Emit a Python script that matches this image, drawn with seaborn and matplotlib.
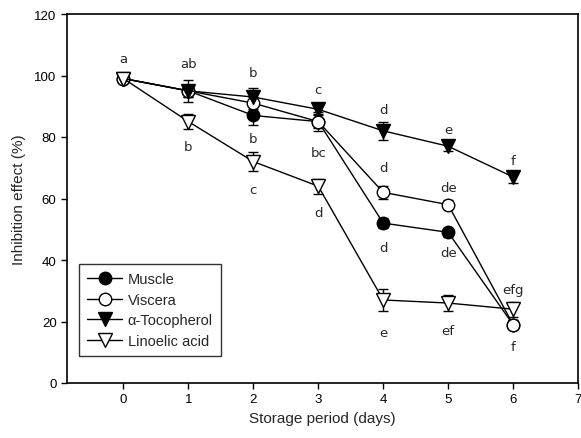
import matplotlib
matplotlib.use("Agg")
import matplotlib.pyplot as plt
import seaborn as sns
import numpy as np
import pandas as pd

days = [0, 1, 2, 3, 4, 5, 6]
muscle = [99, 95, 87, 85, 52, 49, 19]
muscle_err = [0.8, 2.0, 3.0, 2.0, 1.5, 1.5, 1.5]
viscera = [99, 95, 91, 85, 62, 58, 19]
viscera_err = [0.8, 2.0, 2.0, 3.0, 2.0, 1.5, 1.5]
tocopherol = [99, 95, 93, 89, 82, 77, 67]
tocopherol_err = [0.8, 3.5, 3.0, 1.5, 3.0, 1.5, 2.0]
linoleic = [99, 85, 72, 64, 27, 26, 24]
linoleic_err = [0.8, 2.5, 3.0, 2.5, 3.5, 2.5, 2.5]

series_names = ["Muscle", "Viscera", "\u03b1-Tocopherol", "Linoelic acid"]

# significance letters: (day, y, text)
letter_day = [0, 1, 1, 2, 2, 2, 3, 3, 3, 4, 4, 4, 4, 5, 5, 5, 5, 6, 6, 6]
letter_y = [105.5, 104, 77, 101, 79.5, 63, 95.5, 75, 55.5, 89, 70, 44, 16.5,
            82.3, 63.7, 42.5, 17.2, 72.3, 30.3, 12]
letter_text = ["a", "ab", "b", "b", "b", "c", "c", "bc", "d", "d", "d", "d", "e",
               "e", "de", "de", "ef", "f", "efg", "f"]

sns.set_style("ticks")
plt.rcParams["font.family"] = ["Liberation Sans", "DejaVu Sans"]

fig = plt.figure(figsize=(5.81, 4.39), dpi=100)
ax = fig.add_axes([67 / 581, (439 - 384) / 439, (578 - 67) / 581, (384 - 15) / 439])

specs = [
    (muscle, muscle_err, "o", "black"),
    (viscera, viscera_err, "o", "white"),
    (tocopherol, tocopherol_err, "v", "black"),
    (linoleic, linoleic_err, "v", "white"),
]

for name, (vals, err, mk, fc) in zip(series_names, specs):
    ax.errorbar(days, vals, yerr=err, fmt="none", ecolor="black",
                elinewidth=1.0, capsize=3.6, capthick=1.0, zorder=1.5)
    df = pd.DataFrame({"day": days, "value": vals})
    sns.lineplot(data=df, x="day", y="value", ax=ax, color="black",
                 linewidth=1.0, marker=mk, markersize=9 if mk == "o" else 9.5,
                 markerfacecolor=fc, markeredgecolor="black",
                 markeredgewidth=1.0, label=name, zorder=2)

for d, y, t in zip(letter_day, letter_y, letter_text):
    ax.text(d, y, t, ha="center", va="center", fontsize=9.5,
            family=["DejaVu Sans"])

ax.set_xlim(-0.87, 7)
ax.set_ylim(0, 120)
ax.set_xticks(range(0, 8))
ax.set_yticks(range(0, 121, 20))
ax.tick_params(direction="out", length=4, width=1, labelsize=9.5, colors="black")
for sp in ax.spines.values():
    sp.set_visible(True)
    sp.set_linewidth(1.2)
    sp.set_color("black")

ax.set_xlabel("Storage period (days)", fontsize=11, labelpad=4)
ax.set_ylabel("Inhibition effect (%)", fontsize=11, labelpad=6)

leg = ax.legend(loc="lower left", bbox_to_anchor=(0.0235, 0.073),
                borderaxespad=0, fancybox=False, frameon=True, edgecolor="black",
                fontsize=10.5, handlelength=2.4, labelspacing=0.45,
                borderpad=0.55, handletextpad=0.4)
leg.get_frame().set_linewidth(1.0)

fig.savefig("out.png", dpi=100)
